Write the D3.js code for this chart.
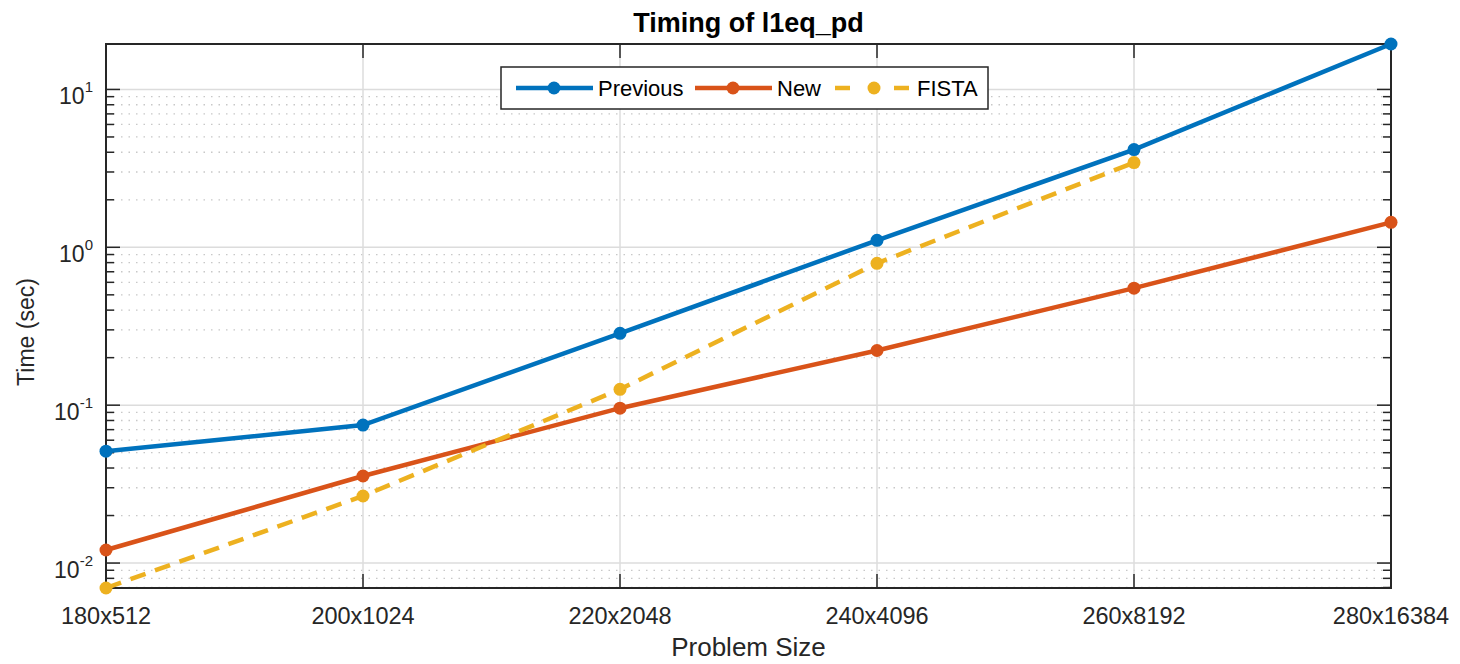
<!DOCTYPE html>
<html>
<head>
<meta charset="utf-8">
<script src="https://cdn.jsdelivr.net/npm/d3@7"></script>
<style>
  body { margin: 0; background: #fff; }
  text { font-family: "Liberation Sans", Arial, sans-serif; fill: #262626; }
</style>
</head>
<body>
<script>
// data
var sizes = ["180x512", "200x1024", "220x2048", "240x4096", "260x8192", "280x16384"];
var previous = [0.0511, 0.0748, 0.285, 1.107, 4.16, 19.4];
var newer = [0.0121, 0.0356, 0.0957, 0.222, 0.551, 1.44];
var fista = [0.00695, 0.0266, 0.126, 0.792, 3.44];
var decades = [0.01, 0.1, 1, 10];

var series = [
  {name: "Previous", values: previous, color: "#0072BD", dash: null},
  {name: "New", values: newer, color: "#D95319", dash: null},
  {name: "FISTA", values: fista, color: "#EDB120", dash: "16,10"}
];

var W = 1460, H = 664;
var m = {left: 106, right: 69, top: 44, bottom: 76};
var pw = W - m.left - m.right, ph = H - m.top - m.bottom;

var svg = d3.select("body").append("svg").attr("width", W).attr("height", H);

var x = d3.scalePoint().domain(sizes).range([0, pw]);
var y = d3.scaleLog().domain([0.00695, 19.4]).range([ph, 0]);

var g = svg.append("g").attr("transform", "translate(" + m.left + "," + m.top + ")");

// minor grid
var minors = [];
[0.001, 0.01, 0.1, 1, 10].forEach(function(d) {
  for (var k = 2; k <= 9; k++) {
    var v = d * k;
    if (v >= y.domain()[0] && v <= y.domain()[1]) minors.push(v);
  }
});
g.selectAll(".minor").data(minors).enter().append("line")
  .attr("x1", 0).attr("x2", pw)
  .attr("y1", d => y(d)).attr("y2", d => y(d))
  .attr("stroke", "#c8c8c8").attr("stroke-width", 1.3)
  .attr("stroke-dasharray", "1.5,6");

// major grid
g.selectAll(".hgrid").data(decades).enter().append("line")
  .attr("x1", 0).attr("x2", pw)
  .attr("y1", d => y(d)).attr("y2", d => y(d))
  .attr("stroke", "#dcdcdc").attr("stroke-width", 1.5);
g.selectAll(".vgrid").data(sizes).enter().append("line")
  .attr("x1", d => x(d)).attr("x2", d => x(d))
  .attr("y1", 0).attr("y2", ph)
  .attr("stroke", "#dcdcdc").attr("stroke-width", 1.5);

// ticks, inward on all four sides
var tk = g.append("g").attr("stroke", "#262626").attr("stroke-width", 1.5);
decades.forEach(function(d) {
  tk.append("line").attr("x1", 0).attr("x2", 14).attr("y1", y(d)).attr("y2", y(d));
  tk.append("line").attr("x1", pw).attr("x2", pw - 14).attr("y1", y(d)).attr("y2", y(d));
});
minors.forEach(function(d) {
  tk.append("line").attr("x1", 0).attr("x2", 8).attr("y1", y(d)).attr("y2", y(d));
  tk.append("line").attr("x1", pw).attr("x2", pw - 8).attr("y1", y(d)).attr("y2", y(d));
});
sizes.forEach(function(d) {
  tk.append("line").attr("x1", x(d)).attr("x2", x(d)).attr("y1", ph).attr("y2", ph - 14);
  tk.append("line").attr("x1", x(d)).attr("x2", x(d)).attr("y1", 0).attr("y2", 14);
});

// box
g.append("rect").attr("width", pw).attr("height", ph)
  .attr("fill", "none").attr("stroke", "#262626").attr("stroke-width", 2);

// x tick labels
g.selectAll(".xl").data(sizes).enter().append("text")
  .attr("x", d => x(d)).attr("y", ph + 36)
  .attr("text-anchor", "middle").style("font-size", "23.5px")
  .text(d => d);

// y tick labels
decades.forEach(function(d) {
  var t = g.append("text").attr("x", -13).attr("y", y(d) + 15)
    .attr("text-anchor", "end").style("font-size", "23px");
  t.append("tspan").text("10");
  t.append("tspan").attr("dy", -12).style("font-size", "15px").text(Math.round(Math.log10(d)));
});

// lines and markers
var line = d3.line().x((d, i) => x(sizes[i])).y(d => y(d));
series.forEach(function(s) {
  g.append("path").datum(s.values).attr("d", line)
    .attr("fill", "none").attr("stroke", s.color).attr("stroke-width", 4.5)
    .attr("stroke-dasharray", s.dash);
  g.selectAll(null).data(s.values).enter().append("circle")
    .attr("cx", (d, i) => x(sizes[i])).attr("cy", d => y(d))
    .attr("r", 6.5).attr("fill", s.color);
});

// title and axis labels
svg.append("text").attr("x", m.left + pw / 2).attr("y", 32)
  .attr("text-anchor", "middle").style("font-size", "27px").style("font-weight", "bold")
  .style("fill", "#000").text("Timing of l1eq_pd");
svg.append("text").attr("x", m.left + pw / 2).attr("y", 656)
  .attr("text-anchor", "middle").style("font-size", "26px").text("Problem Size");
svg.append("text").attr("transform", "translate(34,332) rotate(-90)")
  .attr("text-anchor", "middle").style("font-size", "23px").text("Time (sec)");

// legend
var lg = svg.append("g").attr("transform", "translate(501,67)");
lg.append("rect").attr("width", 487).attr("height", 42)
  .attr("fill", "#fff").attr("stroke", "#262626").attr("stroke-width", 1.5);
var lx = [15, 194, 334];
series.forEach(function(s, i) {
  var e = lg.append("g").attr("transform", "translate(" + lx[i] + ",21)");
  if (s.dash) {
    e.append("line").attr("x1", 0).attr("x2", 15).attr("y1", 0).attr("y2", 0)
      .attr("stroke", s.color).attr("stroke-width", 4.5);
    e.append("line").attr("x1", 59).attr("x2", 74).attr("y1", 0).attr("y2", 0)
      .attr("stroke", s.color).attr("stroke-width", 4.5);
    e.append("circle").attr("cx", 39).attr("cy", 0).attr("r", 6.5).attr("fill", s.color);
    e.append("text").attr("x", 82).attr("y", 8).style("font-size", "22px").style("fill", "#000").text(s.name);
  } else {
    e.append("line").attr("x1", 0).attr("x2", 77).attr("y1", 0).attr("y2", 0)
      .attr("stroke", s.color).attr("stroke-width", 4.5);
    e.append("circle").attr("cx", 38).attr("cy", 0).attr("r", 6.5).attr("fill", s.color);
    e.append("text").attr("x", 82).attr("y", 8).style("font-size", "22px").style("fill", "#000").text(s.name);
  }
});
</script>
</body>
</html>
